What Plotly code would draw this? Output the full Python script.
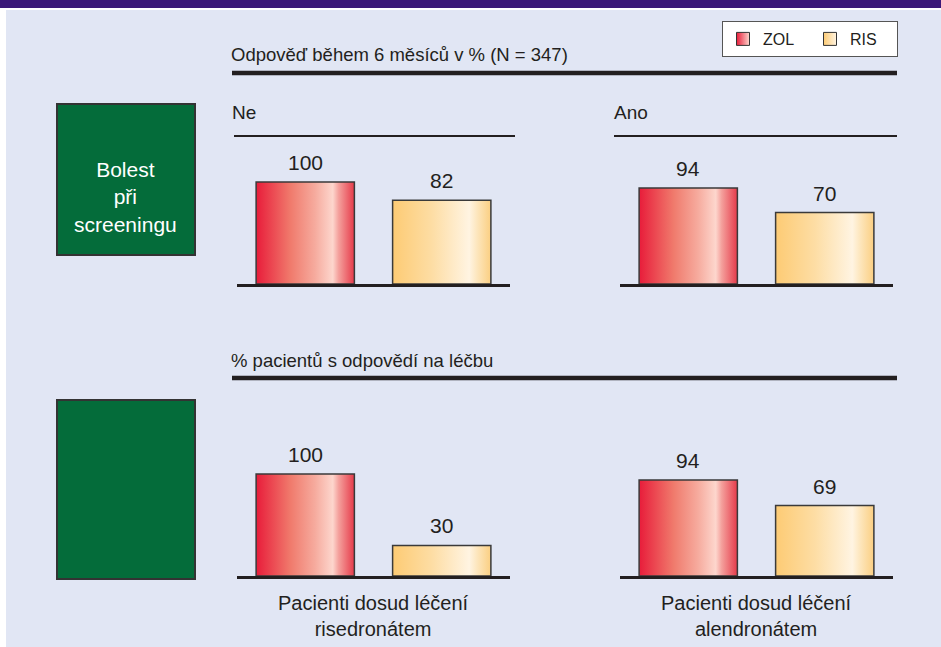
import plotly.graph_objects as go

W, H = 941, 647

# ---------------- data ----------------
series = ["ZOL", "RIS"]
top_panel_titles = ["Ne", "Ano"]
zol_top = [100, 94]
ris_top = [82, 70]
zol_bottom = [100, 94]
ris_bottom = [30, 69]
bottom_categories = ["Pacienti dosud léčení<br>risedronátem",
                     "Pacienti dosud léčení<br>alendronátem"]
top_title = "Odpověď během 6 měsíců v % (N = 347)"
bottom_title = "% pacientů s odpovědí na léčbu"
row_label_top = "Bolest<br>při<br>screeningu"

# ---------------- style ----------------
FONT = "Liberation Sans, Arial, sans-serif"
TXT = "#231f20"
BG = "#e1e6f4"
PURPLE = "#3b1878"
GREEN = "#046c3a"
grad = {
    "ZOL": [[0, "#e81c3a"], [0.35, "#f07a6c"], [0.6, "#f6ab9e"], [0.78, "#fdd6cd"],
            [0.84, "#f4a09c"], [1, "#e63a4a"]],
    "RIS": [[0, "#fdcb74"], [0.4, "#fddda4"], [0.78, "#fff4e2"], [0.86, "#fde6bd"],
            [1, "#fbcf82"]],
}
legend_col = {"ZOL": ("#e81c3a", "#fdd6cd"), "RIS": ("#fdcb74", "#fff4e2")}


def px(x):
    return x / W


def py(y):
    return 1 - y / H


BAR_W = 0.72
Y_MAX = 120
PX_PER_UNIT = 1.02
x_domains = [(237, 510), (620, 893)]
baselines = [284, 576]

panels = [
    (0, 0, {"ZOL": zol_top[0], "RIS": ris_top[0]}),
    (0, 1, {"ZOL": zol_top[1], "RIS": ris_top[1]}),
    (1, 0, {"ZOL": zol_bottom[0], "RIS": ris_bottom[0]}),
    (1, 1, {"ZOL": zol_bottom[1], "RIS": ris_bottom[1]}),
]

fig = go.Figure()
annotations = []
layout_axes = {}

for k, (row, col, vals) in enumerate(panels):
    idx = k + 1
    xa = "x" if idx == 1 else f"x{idx}"
    ya = "y" if idx == 1 else f"y{idx}"
    xkey = "xaxis" if idx == 1 else f"xaxis{idx}"
    ykey = "yaxis" if idx == 1 else f"yaxis{idx}"
    x0, x1 = x_domains[col]
    base = baselines[row]
    top = base - Y_MAX * PX_PER_UNIT
    layout_axes[xkey] = dict(domain=[px(x0), px(x1)], range=[-0.5, 1.5], anchor=ya,
                             showgrid=False, zeroline=False, showticklabels=False,
                             ticks="", showline=True, linecolor=TXT, linewidth=3,
                             fixedrange=True)
    layout_axes[ykey] = dict(domain=[py(base), py(top)], range=[0, Y_MAX], anchor=xa,
                             visible=False, fixedrange=True)
    for i, s in enumerate(series):
        v = vals[s]
        l, r = i - BAR_W / 2, i + BAR_W / 2
        fig.add_trace(go.Scatter(
            x=[l, l, r, r, l], y=[0, v, v, 0, 0], xaxis=xa, yaxis=ya,
            mode="lines", fill="toself",
            fillgradient=dict(type="horizontal", colorscale=grad[s]),
            line=dict(color="#3a3a3a", width=1.5),
            name=s, showlegend=False, hoverinfo="skip"))
        annotations.append(dict(x=i, y=v, xref=xa, yref=ya, text=str(v),
                                showarrow=False, yanchor="bottom", yshift=6,
                                font=dict(size=21, color=TXT, family=FONT)))
    if row == 1:
        annotations.append(dict(x=0.5, y=py(590), xref=xa, yref="paper",
                                text=bottom_categories[col], showarrow=False,
                                yanchor="top", align="center",
                                font=dict(size=20, color=TXT, family=FONT)))

# legend entries
for s in series:
    c1, c2 = legend_col[s]
    fig.add_trace(go.Scatter(
        x=[None], y=[None], mode="markers", name=s,
        marker=dict(symbol="square", size=13, color=c1,
                    gradient=dict(type="horizontal", color=c2),
                    line=dict(color="#333", width=1))))

# texts
annotations += [
    dict(x=px(229), y=py(54), xref="paper", yref="paper", text=top_title,
         showarrow=False, xanchor="left", yanchor="middle",
         font=dict(size=18.5, color=TXT, family=FONT)),
    dict(x=px(229), y=py(360), xref="paper", yref="paper", text=bottom_title,
         showarrow=False, xanchor="left", yanchor="middle",
         font=dict(size=18.5, color=TXT, family=FONT)),
    dict(x=px(230), y=py(113), xref="paper", yref="paper", text=top_panel_titles[0],
         showarrow=False, xanchor="left", yanchor="middle",
         font=dict(size=19, color=TXT, family=FONT)),
    dict(x=px(612), y=py(113), xref="paper", yref="paper", text=top_panel_titles[1],
         showarrow=False, xanchor="left", yanchor="middle",
         font=dict(size=19, color=TXT, family=FONT)),
    dict(x=px(126), y=py(197), xref="paper", yref="paper", text=row_label_top,
         showarrow=False, xanchor="center", yanchor="middle", align="center",
         font=dict(size=21, color="white", family=FONT)),
]

shapes = [
    dict(type="rect", xref="paper", yref="paper", x0=-0.02, x1=px(6), y0=-0.02, y1=1.02,
         fillcolor="white", line=dict(width=0), layer="below"),
    dict(type="rect", xref="paper", yref="paper", x0=-0.02, x1=1.02, y0=py(10), y1=1.02,
         fillcolor="white", line=dict(width=0), layer="below"),
    dict(type="rect", xref="paper", yref="paper", x0=-0.02, x1=1.02, y0=py(8), y1=1.02,
         fillcolor=PURPLE, line=dict(width=0), layer="below"),
    dict(type="rect", xref="paper", yref="paper", x0=px(57), x1=px(195),
         y0=py(255), y1=py(104), fillcolor=GREEN, line=dict(color="#333", width=2),
         layer="below"),
    dict(type="rect", xref="paper", yref="paper", x0=px(57), x1=px(195),
         y0=py(579), y1=py(400), fillcolor=GREEN, line=dict(color="#333", width=2),
         layer="below"),
    dict(type="line", xref="paper", yref="paper", x0=px(232), x1=px(897),
         y0=py(73), y1=py(73), line=dict(color=TXT, width=4.5)),
    dict(type="line", xref="paper", yref="paper", x0=px(232), x1=px(897),
         y0=py(378), y1=py(378), line=dict(color=TXT, width=4.5)),
    dict(type="line", xref="paper", yref="paper", x0=px(234), x1=px(515),
         y0=py(136), y1=py(136), line=dict(color=TXT, width=2)),
    dict(type="line", xref="paper", yref="paper", x0=px(614), x1=px(897),
         y0=py(136), y1=py(136), line=dict(color=TXT, width=2)),
]

fig.update_layout(
    width=W, height=H, margin=dict(l=0, r=0, t=0, b=0),
    paper_bgcolor=BG, plot_bgcolor="rgba(0,0,0,0)",
    font=dict(family=FONT, color=TXT),
    showlegend=True,
    legend=dict(x=px(722), y=py(21), xanchor="left", yanchor="top",
                orientation="h", bgcolor="white", bordercolor="#555", borderwidth=1,
                entrywidth=42, entrywidthmode="pixels",
                font=dict(size=16, color=TXT, family=FONT)),
    annotations=annotations, shapes=shapes, **layout_axes,
)

fig.write_html("out.html",
               post_script="document.body.style.margin='0';"
                           "document.body.style.overflow='hidden';"
                           "document.body.style.background='" + BG + "';")
